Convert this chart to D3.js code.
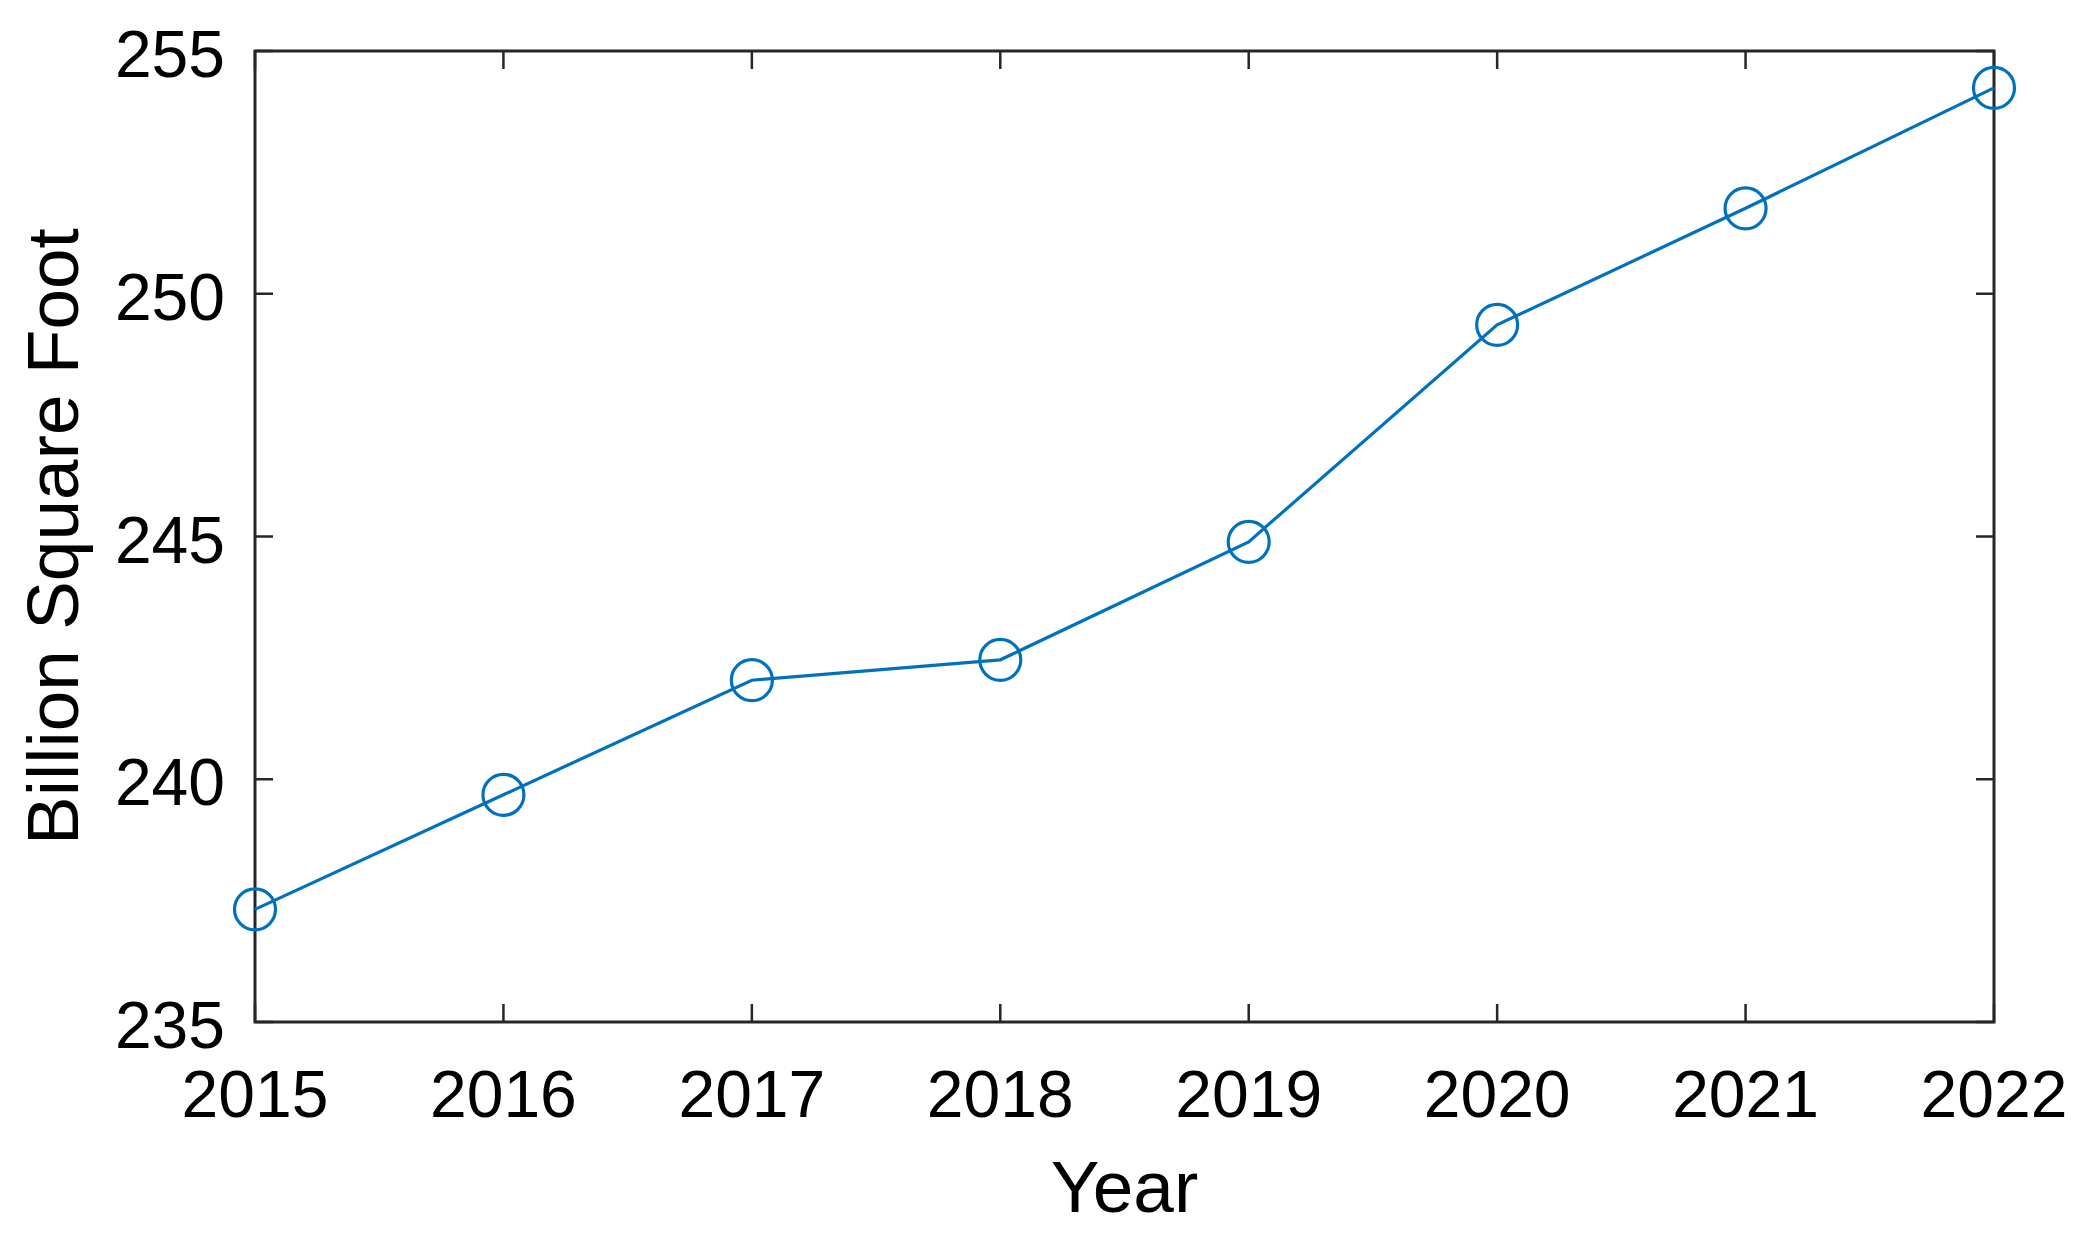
<!DOCTYPE html>
<html>
<head>
<meta charset="utf-8">
<script src="https://cdn.jsdelivr.net/npm/d3@7"></script>
<style>
html, body { margin: 0; padding: 0; background: #fff; }
svg { display: block; }
</style>
</head>
<body>
<script>
const years = [2015, 2016, 2017, 2018, 2019, 2020, 2021, 2022];
const values = [237.32, 239.68, 242.04, 242.46, 244.89, 249.36, 251.76, 254.24];
const yTicks = [235, 240, 245, 250, 255];
const xLabel = "Year";
const yLabel = "Billion Square Foot";

const W = 2081, H = 1236;
const m = { left: 255, right: W - 1994, top: 51, bottom: H - 1022 };
const iw = W - m.left - m.right, ih = H - m.top - m.bottom;

const svg = d3.select("body").append("svg").attr("width", W).attr("height", H);
const g = svg.append("g").attr("transform", `translate(${m.left},${m.top})`);

const x = d3.scaleLinear().domain([2015, 2022]).range([0, iw]);
const y = d3.scaleLinear().domain([235, 255]).range([ih, 0]);

const axisColor = "#262626";
const font = "'Liberation Sans', Arial, sans-serif";
const tickLen = 18;

const tickG = g.append("g").attr("stroke", axisColor).attr("stroke-width", 2.5);
years.forEach(v => {
  tickG.append("line").attr("x1", x(v)).attr("x2", x(v)).attr("y1", ih).attr("y2", ih - tickLen);
  tickG.append("line").attr("x1", x(v)).attr("x2", x(v)).attr("y1", 0).attr("y2", tickLen);
});
yTicks.forEach(v => {
  tickG.append("line").attr("x1", 0).attr("x2", tickLen).attr("y1", y(v)).attr("y2", y(v));
  tickG.append("line").attr("x1", iw).attr("x2", iw - tickLen).attr("y1", y(v)).attr("y2", y(v));
});

g.append("rect").attr("x", 0).attr("y", 0).attr("width", iw).attr("height", ih)
  .attr("fill", "none").attr("stroke", axisColor).attr("stroke-width", 3);

g.append("g").selectAll("text").data(years).join("text")
  .attr("x", d => x(d)).attr("y", ih + 95)
  .attr("text-anchor", "middle")
  .attr("font-family", font).attr("font-size", 66).attr("fill", "#000")
  .text(d => d);

g.append("g").selectAll("text").data(yTicks).join("text")
  .attr("x", -30).attr("y", d => y(d) + 26)
  .attr("text-anchor", "end")
  .attr("font-family", font).attr("font-size", 66).attr("fill", "#000")
  .text(d => d);

svg.append("text")
  .attr("x", m.left + iw / 2).attr("y", 1212)
  .attr("text-anchor", "middle")
  .attr("font-family", font).attr("font-size", 73).attr("fill", "#000")
  .text(xLabel);

svg.append("text")
  .attr("transform", `translate(78,${m.top + ih / 2}) rotate(-90)`)
  .attr("text-anchor", "middle")
  .attr("font-family", font).attr("font-size", 73).attr("fill", "#000")
  .text(yLabel);

const data = years.map((yr, i) => ({ yr, v: values[i] }));
const color = "#0072BD";
g.append("path").datum(data)
  .attr("fill", "none").attr("stroke", color).attr("stroke-width", 3.2)
  .attr("d", d3.line().x(d => x(d.yr)).y(d => y(d.v)));

g.append("g").selectAll("circle").data(data).join("circle")
  .attr("cx", d => x(d.yr)).attr("cy", d => y(d.v)).attr("r", 20.5)
  .attr("fill", "none").attr("stroke", color).attr("stroke-width", 3.2);
</script>
</body>
</html>
